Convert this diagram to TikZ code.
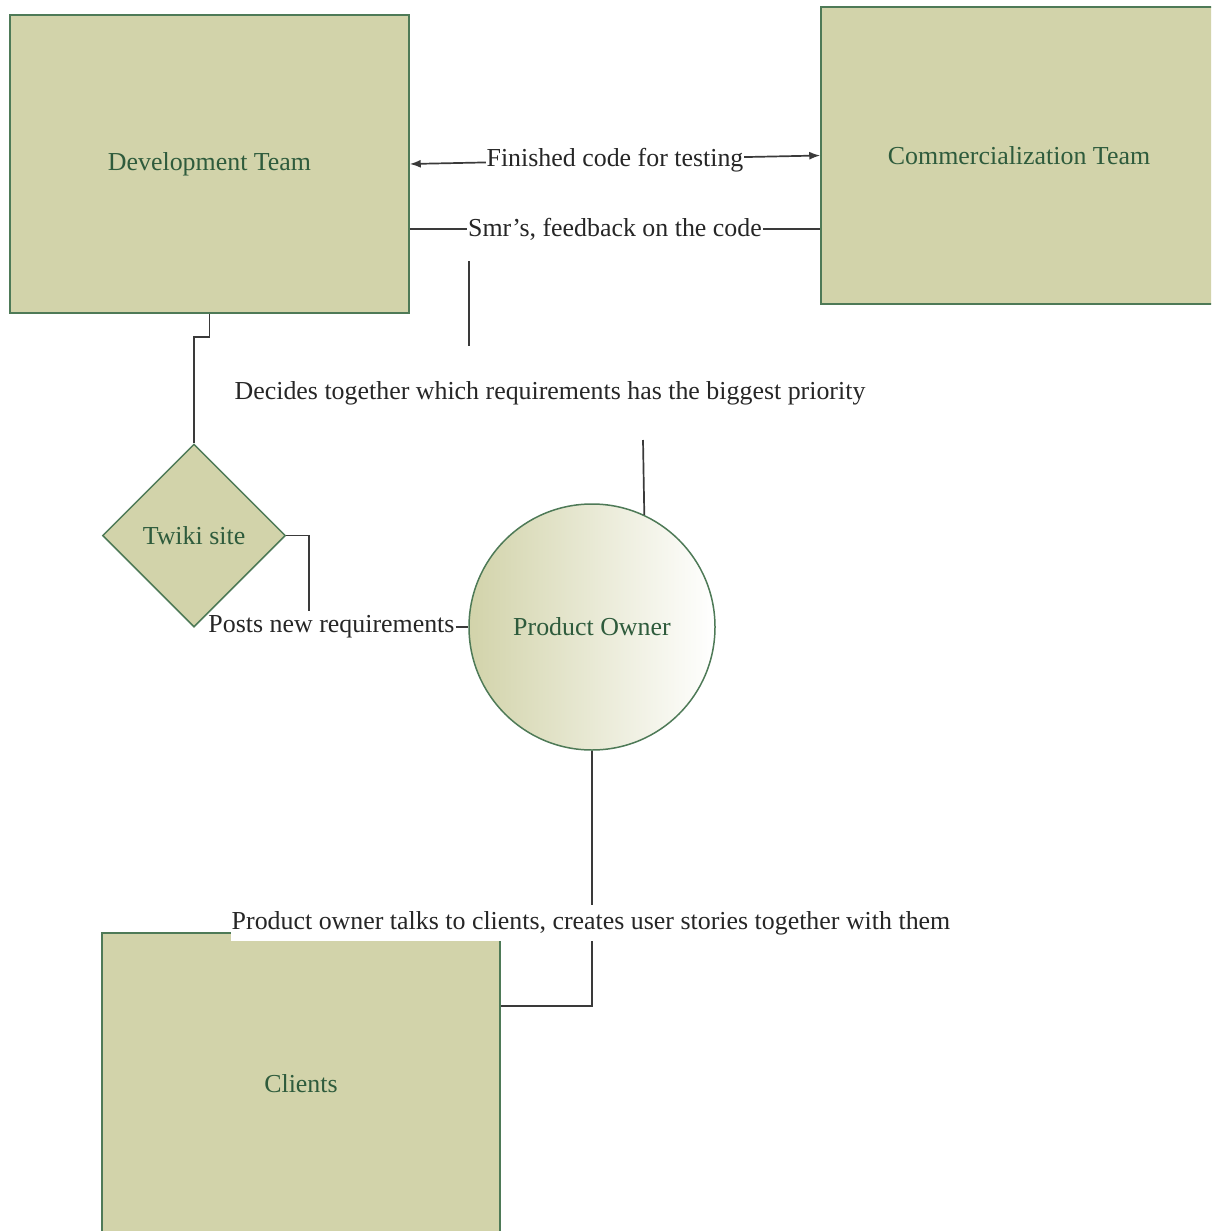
\documentclass[tikz,border=0pt]{standalone}
\usepackage{fontspec}
\setmainfont{Liberation Serif}
\usetikzlibrary{shapes.geometric,arrows.meta,calc}
\definecolor{boxfill}{HTML}{D2D3AA}
\definecolor{boxline}{HTML}{4E7A57}
\definecolor{boxtext}{HTML}{2E5B3C}
\definecolor{connline}{HTML}{3A3A3A}
\begin{document}
\begin{tikzpicture}[x=1pt,y=-1pt,
  every node/.style={font=\fontsize{25.9}{30}\selectfont},
  teambox/.style={draw=boxline,line width=1.5,fill=boxfill,text=boxtext,rectangle,inner sep=0},
  conn/.style={draw=connline,line width=1.7},
  lbl/.style={fill=white,text=black!85,inner xsep=1,inner ysep=4}]
\useasboundingbox (0,0) rectangle (1211,1231);
\clip (0,0) rectangle (1211,1231);
% shapes
\node[teambox,minimum width=399,minimum height=298] (dev) at (209.5,164) {Development Team};
\node[teambox,minimum width=396,minimum height=297] (com) at (1019,155.5) {Commercialization Team};
\node[teambox,shape=diamond,minimum width=183,minimum height=183,inner sep=0] (tw) at (194,535.5) {Twiki site};
\node[draw=boxline,line width=1.5,circle,minimum size=246,inner sep=0,left color=boxfill,right color=white,text=boxtext] (po) at (592,627) {Product Owner};
\node[teambox,minimum width=398,minimum height=302] (cl) at (301,1084) {Clients};
% coordinates
\coordinate (smr) at (615,229);
\coordinate (d1) at (469,261);
\coordinate (d2) at (469,346);
\coordinate (d3) at (643,440);
\coordinate (k) at (194,337);
\coordinate (t1) at (309,611);
\coordinate (c1) at (592,1006);
% connectors
\draw[conn,{Latex[length=11,width=8]}-{Latex[length=11,width=8]}] (dev.east) -- node[lbl,inner ysep=2] {Finished code for testing} (com.west);
\draw[conn] (dev.east |- smr) -- node[lbl,inner ysep=2] {Smr’s, feedback on the code} (com.west |- smr);
\draw[conn] (d1) -- (d2);
\node[text=black!85] (dec) at (550,393) {Decides together which requirements has the biggest priority};
\draw[conn] (d3) -- (po.65.5);
\draw[conn] (dev.south) |- (k) -- (tw.north);
\draw[conn] (tw.east) -| (t1);
\node[text=black!85,inner xsep=1] (post) at (331.5,627) {Posts new requirements};
\draw[conn] (post.east) -- (po.west);
\draw[conn] (po.south) -- (c1) -- (c1 -| cl.east);
\node[lbl,inner ysep=6] (talk) at (591,923) {Product owner talks to clients, creates user stories together with them};
\end{tikzpicture}
\end{document}
